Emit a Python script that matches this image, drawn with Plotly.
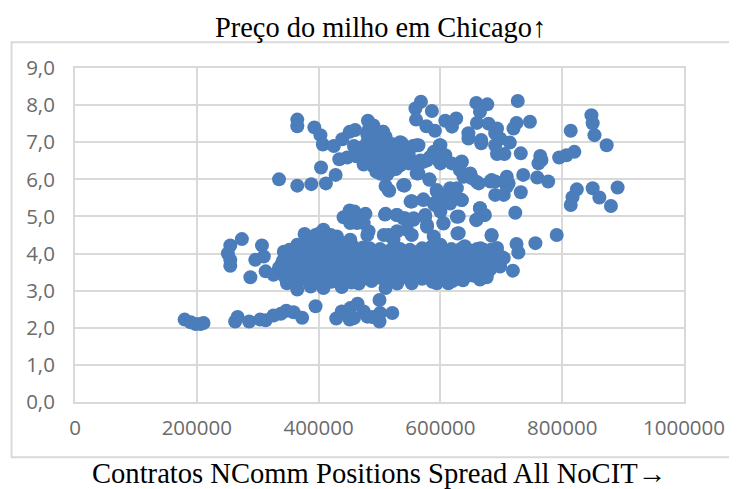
import plotly.graph_objects as go

x_low = [180,190,198,206,211,263,267,286,304,313,326,347,359,373,395,429,438,451,452,464,474,480,500,500,501,521,458,488,338]
y_low = [2.22,2.15,2.1,2.1,2.13,2.17,2.29,2.17,2.22,2.2,2.33,2.46,2.42,2.27,2.58,2.25,2.44,2.22,2.53,2.65,2.44,2.3,2.17,2.75,2.4,2.4,2.26,2.29,2.38]

x_left = [274,255,251,255,255,288,296,307,310]
y_left = [4.39,4.22,4.0,3.83,3.67,3.36,3.83,4.22,3.92]

x_edge = [313,326,348,365,387,408,438,466,510,529,551,343,365,377,408,430,452,480,441,451,459,477,510,529,542,463,452,474,482,515,529,507,523,545,553,589,693,671,704,665,613,594,553,635,679,698,630,684,725,728,756,791,719]
y_edge = [3.52,3.43,3.2,3.03,3.11,3.07,3.1,3.19,3.07,3.19,3.29,4.05,4.24,4.53,4.64,4.46,4.37,4.5,4.98,5.16,5.13,5.07,5.07,5.04,4.95,4.82,4.82,4.82,4.6,4.5,4.6,4.5,4.37,4.64,4.5,4.46,4.15,4.1,3.88,3.3,3.2,3.2,3.2,3.43,3.52,3.65,4.55,4.5,4.26,4.03,4.28,4.5,3.54]

x_dense = [335,352,368,384,401,418,433,449,467,482,498,516,531,549,566,583,598,616,632,649,666,683,
           342,358,375,392,408,424,441,458,474,491,507,524,540,558,574,591,607,624,641,658,675,692,
           346,362,380,396,412,430,446,463,479,496,512,528,546,562,579,596,612,629,646,663,680,
           356,372,388,404,421,437,454,470,487,503,520,537,553,570,587,603,620,637,655,
           375,391,407,423,440,456,473,570,585,600,618,640,660,395,412,428,385,402,420]
y_dense = [3.62,3.48,3.55,3.42,3.6,3.45,3.38,3.5,3.42,3.58,3.36,3.48,3.55,3.4,3.52,3.38,3.46,3.35,3.52,3.42,3.5,3.6,
           3.82,3.72,3.88,3.7,3.84,3.68,3.8,3.74,3.86,3.7,3.82,3.66,3.78,3.72,3.84,3.68,3.76,3.62,3.82,3.7,3.78,3.86,
           4.0,3.95,4.05,3.92,4.02,3.9,4.06,3.96,3.9,4.04,3.92,4.0,3.88,4.04,3.94,3.9,4.02,3.92,4.0,3.92,4.0,
           3.28,3.3,3.24,3.32,3.24,3.3,3.22,3.3,3.26,3.34,3.28,3.35,3.28,3.32,3.24,3.3,3.26,3.28,3.4,
           4.22,4.3,4.18,4.4,4.28,4.2,4.16,4.14,4.18,4.24,4.12,4.2,4.12,4.5,4.42,4.3,4.42,4.55,4.5]

x_fill = [344,361,377,394,411,427,443,460,476,493,509,526,543,560,576,593,609,626,643,659,676,
          350,366,383,399,416,432,449,465,482,498,515,531,548,564,581,597,614,630,647,663,680,694,
          340,357,373,390,406,423,439,456,472,489,505,522,538,555,571,588,604,621,637,654,670,686,
          365,381,398,414,431,447,464,480,497,513,530,546,563,579,596,612,629,645,662,678,
          352,369,385,402,418,435,451,468,484,501,517,534,550,567,583,600,616,633,649,666,683,699]
y_fill = [3.38,3.4,3.46,3.52,3.36,3.4,3.5,3.36,3.5,3.42,3.46,3.36,3.44,3.5,3.38,3.48,3.4,3.44,3.4,3.44,3.36,
          3.58,3.62,3.68,3.58,3.6,3.56,3.65,3.6,3.66,3.56,3.62,3.58,3.6,3.64,3.56,3.62,3.56,3.62,3.6,3.62,3.66,3.7,
          3.74,3.8,3.76,3.82,3.74,3.78,3.7,3.84,3.76,3.8,3.72,3.76,3.72,3.84,3.8,3.76,3.82,3.74,3.8,3.72,3.78,3.84,
          3.9,3.98,3.84,3.94,3.96,3.88,3.9,4.0,3.86,3.96,3.92,3.96,3.9,4.0,3.84,3.96,3.86,3.92,3.88,3.94,
          4.1,4.14,4.12,4.16,4.14,4.1,4.18,4.1,4.14,4.12,4.08,4.12,4.1,4.06,4.12,4.1,4.06,4.12,4.08,4.14,4.1,3.92]

x_mid = [541,594,616,627,635,616,605,589,553,572,600,575,556,539,578,605,630,665,673,659,723,
         567,578,599,608,635,597,564,539,515,582,594,621,610,635,553,572,591,616,627,605,575,556,528,509,665,671,659,628,578,684,649,660,684]
y_mid = [5.83,5.67,5.76,5.76,5.44,5.53,5.44,5.35,5.4,5.46,5.13,5.04,4.91,4.95,4.77,4.82,5.0,5.22,5.04,4.91,5.1,
         6.51,6.51,6.92,6.65,6.47,6.51,6.16,5.84,5.71,5.99,5.71,5.71,5.57,5.44,5.41,5.44,5.31,5.35,4.99,4.81,4.99,4.95,5.04,5.05,5.22,5.04,4.9,4.54,4.72,4.48,6.16,5.93,5.98]

x_high = [568,559,586,560,577,591,608,626,619,646,646,659,677,665,660,679,693,667,667,690,714,698,690,693,705,727,725,720,747,732,764,766,761,814,848,850,853,873,795,807,820,
          537,561,600,589,605,578,600,635,548,561,582,619,632,638,652,663,682,690,709,712,736,759,777,690,704,732,709,
          824,817,814,850,861,880,891]
y_high = [8.09,7.91,7.84,7.61,7.43,7.31,7.58,7.64,7.42,7.24,7.1,8.06,8.02,7.82,7.52,7.5,7.37,7.06,6.97,6.92,6.99,7.1,7.24,6.68,6.68,8.11,7.52,7.37,7.55,6.7,6.63,6.52,6.43,7.31,7.73,7.51,7.19,6.92,6.59,6.65,6.74,
          6.97,6.92,6.92,6.74,6.61,6.52,6.43,6.48,6.43,6.16,6.0,6.43,6.25,6.07,6.03,5.89,5.94,5.94,6.07,5.89,6.12,6.05,5.94,5.58,5.58,5.65,5.8,
          5.73,5.52,5.31,5.76,5.51,5.28,5.78]

x_upper = [365,365,393,403,407,425,439,451,460,481,482,506,534,458,434,447,404,428,335,365,388,412,510,516,541,551,
           470,480,490,500,510,520,530,540,470,480,490,500,510,520,535,480,490,500,510,520,530,490,500,510,520,495,480,490,462,474,548,555,
           476,486,496,506,516,526,536,484,494,504,514,524,534,544,487,497,507,517,527,502,512,
           506,534,564,523,547,509,537,526,556,583,572]
y_upper = [7.61,7.43,7.4,7.19,6.94,6.9,7.08,7.28,7.33,7.58,7.33,7.28,7.0,6.9,6.54,6.59,6.32,6.12,6.0,5.83,5.87,5.89,5.82,5.69,5.85,5.4,
           6.85,7.0,7.1,7.05,7.15,6.95,6.8,6.75,6.6,6.75,6.85,6.8,6.9,6.7,6.55,6.5,6.6,6.55,6.65,6.45,6.5,6.35,6.3,6.4,6.25,6.2,7.2,7.45,6.62,6.4,6.65,6.9,
           6.72,6.92,6.95,6.68,6.82,6.6,6.68,6.62,6.72,6.45,6.55,6.82,6.38,6.62,6.42,6.46,6.22,6.58,6.28,6.15,6.12,
           7.28,6.96,6.92,6.69,6.74,6.43,6.43,6.51,6.43,6.6,6.47]

x_values = [v * 1000 for v in x_low + x_left + x_edge + x_dense + x_fill + x_mid + x_high + x_upper]
y_values = y_low + y_left + y_edge + y_dense + y_fill + y_mid + y_high + y_upper

x_ticks = [0, 200000, 400000, 600000, 800000, 1000000]
y_ticks = [0, 1, 2, 3, 4, 5, 6, 7, 8, 9]
y_labels = ["0,0","1,0","2,0","3,0","4,0","5,0","6,0","7,0","8,0","9,0"]
title_top = "Preço do milho em Chicago↑"
title_bottom = "Contratos NComm Positions Spread All NoCIT→"

fig = go.Figure(go.Scatter(x=x_values, y=y_values, mode="markers",
    marker=dict(size=14, color="#4a7dba", line=dict(width=0)), cliponaxis=False))

GRID = "#d9d9d9"
TICKF = dict(family="Open Sans, Liberation Sans", size=20.5, color="#6b6b6b")
PW, PH = 609.5, 335
OX, OY = 66.5, 394.5   # axis origin inside the figure
fig.update_layout(
    width=737, height=489, paper_bgcolor="white", plot_bgcolor="white",
    margin=dict(l=OX, r=737-OX-PW, t=OY-PH, b=489-OY), showlegend=False,
    xaxis=dict(range=[0, 1000000], tickvals=x_ticks, ticktext=[str(v) for v in x_ticks],
               showgrid=True, gridcolor=GRID, gridwidth=2, zeroline=False,
               showline=True, linecolor=GRID, linewidth=2, ticks="", tickfont=TICKF, mirror=True,
               ticklabelstandoff=6),
    yaxis=dict(range=[0, 9], tickvals=y_ticks, ticktext=y_labels,
               showgrid=True, gridcolor=GRID, gridwidth=2, zeroline=False,
               showline=True, linecolor=GRID, linewidth=2, ticks="", tickfont=TICKF, mirror=True,
               ticklabelstandoff=14),
    annotations=[
        dict(text=title_top, xref="paper", yref="paper", x=(372-OX)/PW, y=(OY-18.5)/PH,
             xanchor="center", yanchor="middle", showarrow=False,
             font=dict(family="Liberation Serif", size=28.4, color="black")),
        dict(text=title_bottom, xref="paper", yref="paper", x=(371-OX)/PW, y=(OY-466)/PH,
             xanchor="center", yanchor="middle", showarrow=False,
             font=dict(family="Liberation Serif", size=28.6, color="black")),
    ],
    shapes=[dict(type="rect", xref="paper", yref="paper", x0=(3-OX)/PW, x1=(745-OX)/PW,
                 y0=(OY-450)/PH, y1=(OY-33.7)/PH, line=dict(color=GRID, width=2), layer="below")],
)
fig.write_html("out.html")
